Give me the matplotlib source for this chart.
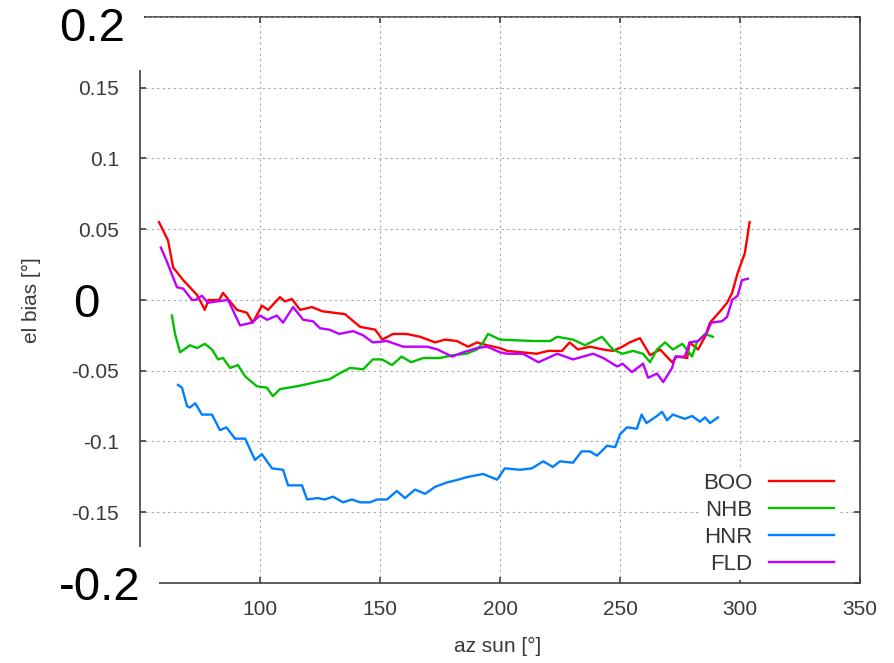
import matplotlib
matplotlib.use("Agg")
import matplotlib.pyplot as plt
import matplotlib.transforms as mtransforms

plt.rcParams["font.family"] = ["Liberation Sans", "DejaVu Sans"]

# azimuth of the sun [deg] and elevation bias [deg] per station
boo_az = [57.9, 61.7, 63.8, 68, 73.8, 77, 78.5, 83, 84.6, 87, 90.4, 94.5, 97, 100.8,
          103.4, 108.3, 110.4, 113.3, 116.7, 121.6, 126, 135.4, 141.7, 148, 151,
          155.4, 161, 166.7, 173, 177, 182, 186.7, 190.4, 194.6, 200, 203, 215.4,
          220, 225.8, 229, 232.5, 237.5, 243, 247, 251, 254, 258.3, 262.5, 266.7,
          271.7, 273.7, 278, 279, 282.5, 285.4, 287.5, 291.7, 294.6, 296.7, 299,
          302, 304]
boo_el = [0.055, 0.042, 0.023, 0.014, 0.0035, -0.007, 0.0, 0.0, 0.005, 0.0, -0.007,
          -0.009, -0.016, -0.004, -0.007, 0.002, -0.001, 0.0007, -0.007, -0.005,
          -0.008, -0.010, -0.019, -0.021, -0.028, -0.024, -0.024, -0.026, -0.030,
          -0.028, -0.029, -0.033, -0.030, -0.032, -0.034, -0.036, -0.038, -0.036,
          -0.036, -0.030, -0.035, -0.033, -0.035, -0.036, -0.033, -0.030, -0.027,
          -0.039, -0.035, -0.044, -0.040, -0.041, -0.030, -0.035, -0.026, -0.016,
          -0.008, -0.002, 0.005, 0.019, 0.033, 0.055]

nhb_az = [63.3, 64.6, 66.7, 70.8, 73.8, 77, 80, 82.5, 84.6, 87.5, 90.8, 93.8, 98.7,
          102.9, 105.4, 108.3, 115.4, 120.8, 126, 129, 133, 137.5, 143, 147, 150.8,
          155, 159, 163, 168, 175, 180.4, 186, 190.4, 193, 195, 200, 213.8, 221,
          223.8, 230.4, 235.4, 242.5, 247, 251, 255.4, 259.6, 262.5, 265.4, 268.8,
          272, 276, 280, 282, 285.4, 288.7]
nhb_el = [-0.011, -0.024, -0.037, -0.032, -0.034, -0.031, -0.035, -0.042, -0.041,
          -0.048, -0.046, -0.054, -0.061, -0.062, -0.068, -0.063, -0.061, -0.059,
          -0.057, -0.056, -0.052, -0.048, -0.049, -0.042, -0.042, -0.046, -0.040,
          -0.044, -0.041, -0.041, -0.039, -0.038, -0.035, -0.030, -0.024, -0.028,
          -0.029, -0.029, -0.026, -0.028, -0.032, -0.026, -0.035, -0.038, -0.036,
          -0.038, -0.044, -0.035, -0.030, -0.035, -0.031, -0.040, -0.030, -0.024,
          -0.026]

hnr_az = [65.8, 67.5, 69.6, 70.8, 73, 75.8, 80, 83.3, 86, 89.6, 93.8, 97.9, 100.8,
          105, 109.6, 111.7, 117.5, 119.6, 124, 127, 130.4, 134.6, 138.3, 141.7,
          145.8, 148.8, 152.9, 157, 160.4, 164.6, 168.8, 173, 177.9, 182.5, 186.7,
          193, 198.8, 202, 208.3, 213.3, 218, 222, 225, 230.4, 234, 237.5, 240.4,
          244.6, 248, 250, 252.9, 257, 259, 261, 265.4, 267.5, 269.6, 272, 277,
          280, 283.3, 285.4, 287.5, 290.8]
hnr_el = [-0.060, -0.062, -0.075, -0.076, -0.073, -0.081, -0.081, -0.092, -0.090,
          -0.098, -0.098, -0.113, -0.109, -0.119, -0.120, -0.131, -0.131, -0.141,
          -0.140, -0.141, -0.139, -0.143, -0.141, -0.143, -0.143, -0.141, -0.141,
          -0.135, -0.140, -0.134, -0.137, -0.132, -0.129, -0.127, -0.125, -0.123,
          -0.127, -0.119, -0.120, -0.119, -0.114, -0.118, -0.114, -0.115, -0.107,
          -0.107, -0.110, -0.103, -0.104, -0.095, -0.090, -0.091, -0.081, -0.087,
          -0.082, -0.079, -0.085, -0.081, -0.084, -0.082, -0.086, -0.083, -0.087,
          -0.083]

fld_az = [58.7, 61, 65.4, 68, 71.7, 73, 75.8, 78.3, 82, 86.7, 91.7, 96.7, 100, 103,
          107, 109.6, 113.8, 118, 122, 125, 129, 133, 138.8, 143, 147, 152.9, 159.6,
          169.6, 174, 180, 184.6, 190.4, 194.6, 200, 203, 209.6, 216, 223.8, 230.4,
          238.8, 243, 248.8, 251, 255, 259.6, 261.7, 265.4, 268, 271.7, 273, 277,
          279, 282.5, 286, 288, 292.5, 294.6, 296.7, 299, 300.8, 303.3]
fld_el = [0.037, 0.028, 0.009, 0.008, 0.0, 0.0, 0.003, -0.002, -0.001, 0.0, -0.018,
          -0.016, -0.011, -0.014, -0.011, -0.016, -0.005, -0.014, -0.015, -0.020,
          -0.021, -0.024, -0.022, -0.025, -0.030, -0.029, -0.033, -0.033, -0.035,
          -0.040, -0.037, -0.034, -0.033, -0.037, -0.038, -0.038, -0.044, -0.038,
          -0.042, -0.038, -0.041, -0.047, -0.045, -0.051, -0.045, -0.055, -0.052,
          -0.058, -0.048, -0.040, -0.040, -0.030, -0.029, -0.024, -0.016, -0.015,
          -0.012, 0.0, 0.003, 0.014, 0.015]

x_ticks = [100, 150, 200, 250, 300, 350]
y_ticks = [-0.2, -0.15, -0.1, -0.05, 0, 0.05, 0.1, 0.15, 0.2]
y_labels = ["-0.2", "-0.15", "-0.1", "-0.05", "0", "0.05", "0.1", "0.15", "0.2"]

fig = plt.figure(figsize=(8.94, 6.63), dpi=100)
ax = fig.add_axes([0.1566, 0.1207, 0.8054, 0.8537])

ax.plot(boo_az, boo_el, color="#ff0000", lw=1.7, label="BOO")
ax.plot(nhb_az, nhb_el, color="#00c000", lw=1.7, label="NHB")
ax.plot(hnr_az, hnr_el, color="#0080ff", lw=1.7, label="HNR")
ax.plot(fld_az, fld_el, color="#c000ff", lw=1.7, label="FLD")

ax.set_xlim(50, 350)
ax.set_ylim(-0.2, 0.2)
ax.set_xticks(x_ticks)
ax.set_yticks(y_ticks)
ax.set_yticklabels(y_labels)

txt = "#3a3a3a"
ax.grid(True, color="#a8a8a8", linestyle=(0, (2, 3)), linewidth=0.8)
ax.tick_params(direction="in", length=4, width=1.2, color="#404040",
               top=True, right=True, labelsize=15, labelcolor=txt)
ax.tick_params(axis="y", pad=15)
ax.tick_params(axis="x", pad=12)
for sp in ax.spines.values():
    sp.set_color("#404040")
    sp.set_linewidth(1.2)
    sp.set_zorder(1)

# the three big labels on the y axis (x, y shift in px)
shifts = {"0.2": (6, -7), "0": (-20, 0), "-0.2": (21, 0)}
for lab in ax.get_yticklabels():
    s = lab.get_text()
    if s in shifts:
        lab.set_fontsize(34)
        lab.set_color("black")
        lab.set_bbox(dict(boxstyle="square,pad=0.4", fc="white", ec="none"))
        dx, dy = shifts[s]
        off = mtransforms.ScaledTranslation(dx / 100, dy / 100, fig.dpi_scale_trans)
        lab.set_transform(lab.get_transform() + off)

ax.set_xlabel("az sun [°]", fontsize=15, color=txt)
ax.set_ylabel("el bias [°]", fontsize=15, color=txt)
ax.xaxis.set_label_coords(0.497, -0.095)
ax.yaxis.set_label_coords(-0.137, 0.5)

leg = ax.legend(loc="lower right", markerfirst=False, fontsize=16,
                handlelength=2.9, handletextpad=0.75, labelspacing=0.28,
                borderaxespad=0.15, borderpad=0.2, frameon=True, fancybox=False,
                bbox_to_anchor=(0.974, 0.0))
leg.get_frame().set_facecolor("white")
leg.get_frame().set_edgecolor("none")
leg.get_frame().set_alpha(1)
for t in leg.get_texts():
    t.set_color("#333333")

fig.savefig("out.png", dpi=100)
